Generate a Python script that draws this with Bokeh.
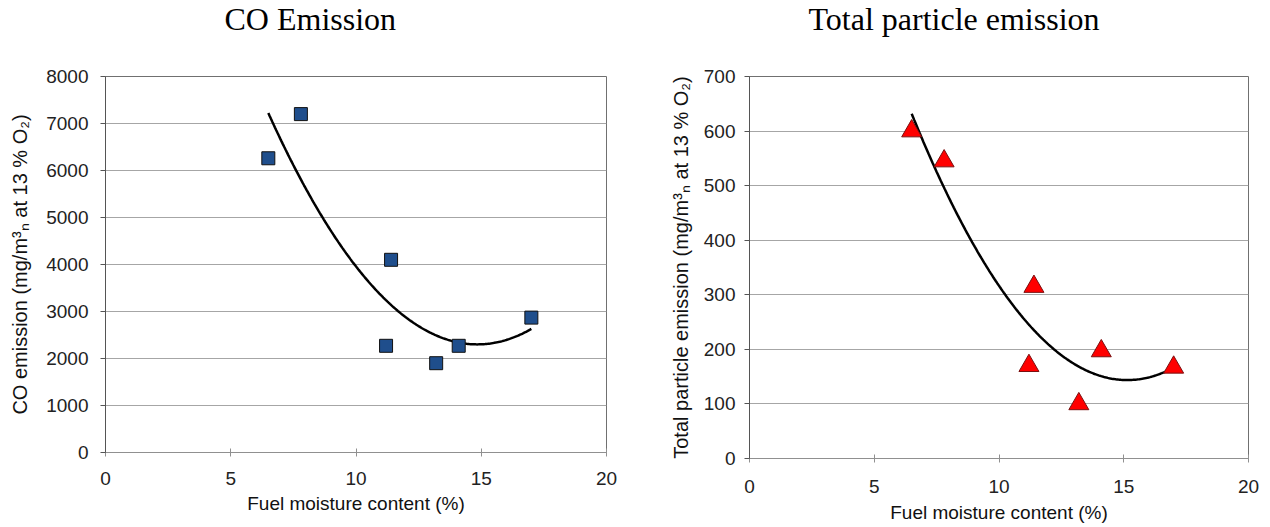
import numpy as np
from bokeh.plotting import figure
from bokeh.layouts import row
from bokeh.models import Range1d, FixedTicker, Title
from bokeh.embed import file_html
from bokeh.resources import INLINE

# Fuel moisture content (%) of each test run
co_moisture = [6.5, 7.8, 11.4, 11.2, 13.2, 14.1, 17.0]
# CO emission (mg/m3n at 13 % O2)
co_emission = [6260, 7200, 4100, 2270, 1900, 2270, 2870]

particle_moisture = [6.5, 7.8, 11.4, 11.2, 13.2, 14.1, 17.0]
# Total particle emission (mg/m3n at 13 % O2)
particle_emission = [600, 545, 315, 170, 100, 197, 167]

x_ticks = [0, 5, 10, 15, 20]
co_ticks = [0, 1000, 2000, 3000, 4000, 5000, 6000, 7000, 8000]
particle_ticks = [0, 100, 200, 300, 400, 500, 600, 700]

TICK_FONT = "Liberation Sans"
TITLE_FONT = "Liberation Serif"


def trend(xs, ys):
    """Second-order polynomial trendline over the span of the data."""
    coef = np.polyfit(xs, ys, 2)
    xx = np.linspace(min(xs), max(xs), 200)
    return xx, np.polyval(coef, xx)


def make_panel(title, title_offset, ylabel, yticks, ymax, height, bl, br, y_std, lab_std,
               x_std, xlab_std):
    p = figure(width=635, height=height, output_backend="svg", toolbar_location=None,
               x_range=Range1d(0, 20), y_range=Range1d(0, ymax),
               min_border_left=bl, min_border_right=br, min_border_top=0,
               min_border_bottom=75)
    # blank band between the heading and the plot frame
    p.add_layout(Title(text=" ", text_font=TITLE_FONT, text_font_size="32px",
                       standoff=0), "above")
    p.title = Title(text=title, align="left", offset=title_offset, vertical_align="top",
                    text_font=TITLE_FONT, text_font_size="32px",
                    text_font_style="normal", text_color="#000000", standoff=0)
    p.background_fill_color = "white"
    p.border_fill_color = "white"
    p.outline_line_color = "#707070"
    p.outline_line_width = 1

    p.xaxis.ticker = FixedTicker(ticks=x_ticks)
    p.yaxis.ticker = FixedTicker(ticks=yticks)
    p.xaxis.axis_label = "Fuel moisture content (%)"
    p.yaxis.axis_label = ylabel
    for ax in (p.xaxis, p.yaxis):
        ax.axis_label_text_font = TICK_FONT
        ax.axis_label_text_font_style = "normal"
        ax.axis_label_text_color = "#111111"
        ax.major_label_text_font = TICK_FONT
        ax.major_label_text_font_size = "19px"
        ax.major_label_text_color = "#222222"
        ax.minor_tick_line_color = None
        ax.axis_line_color = "#555555"
        ax.major_tick_line_color = "#555555"
    p.xaxis.axis_label_text_font_size = "19px"
    p.yaxis.axis_label_text_font_size = "20px"
    p.xaxis.major_tick_in = 4
    p.xaxis.major_tick_out = 4
    p.xaxis.axis_line_color = "#909090"
    p.xaxis.major_tick_line_color = "#909090"
    p.xaxis.major_label_standoff = x_std
    p.xaxis.axis_label_standoff = xlab_std
    p.yaxis.major_tick_in = 0
    p.yaxis.major_tick_out = 5
    p.yaxis.major_label_standoff = y_std
    p.yaxis.axis_label_standoff = lab_std

    p.xgrid.grid_line_color = None
    p.ygrid.grid_line_color = "#a6a6a6"
    p.ygrid.grid_line_width = 1.2
    return p


left = make_panel("CO Emission", 119, "CO emission (mg/m\u00b3\u2099 at 13 % O\u2082)",
                  co_ticks, 8000, 527, 105, 29, 12, 12, 15, 5)
lx, ly = trend(co_moisture, co_emission)
left.line(lx, ly, line_color="black", line_width=2.5)
left.scatter(co_moisture, co_emission, marker="square", size=13,
             fill_color="#1f4e8c", line_color="#111111", line_width=1)

right = make_panel("Total particle emission", 59,
                   "Total particle emission (mg/m\u00b3\u2099 at 13 % O\u2082)",
                   particle_ticks, 700, 533, 114, 22, 9, 9, 17, 6)
rx, ry = trend(particle_moisture, particle_emission)
right.line(rx, ry, line_color="black", line_width=2.5)
right.scatter(particle_moisture, particle_emission, marker="triangle", size=20,
              fill_color="#ff0000", line_color="#7a1010", line_width=1)

layout = row(left, right)
open("out.html", "w").write(file_html(layout, INLINE))
